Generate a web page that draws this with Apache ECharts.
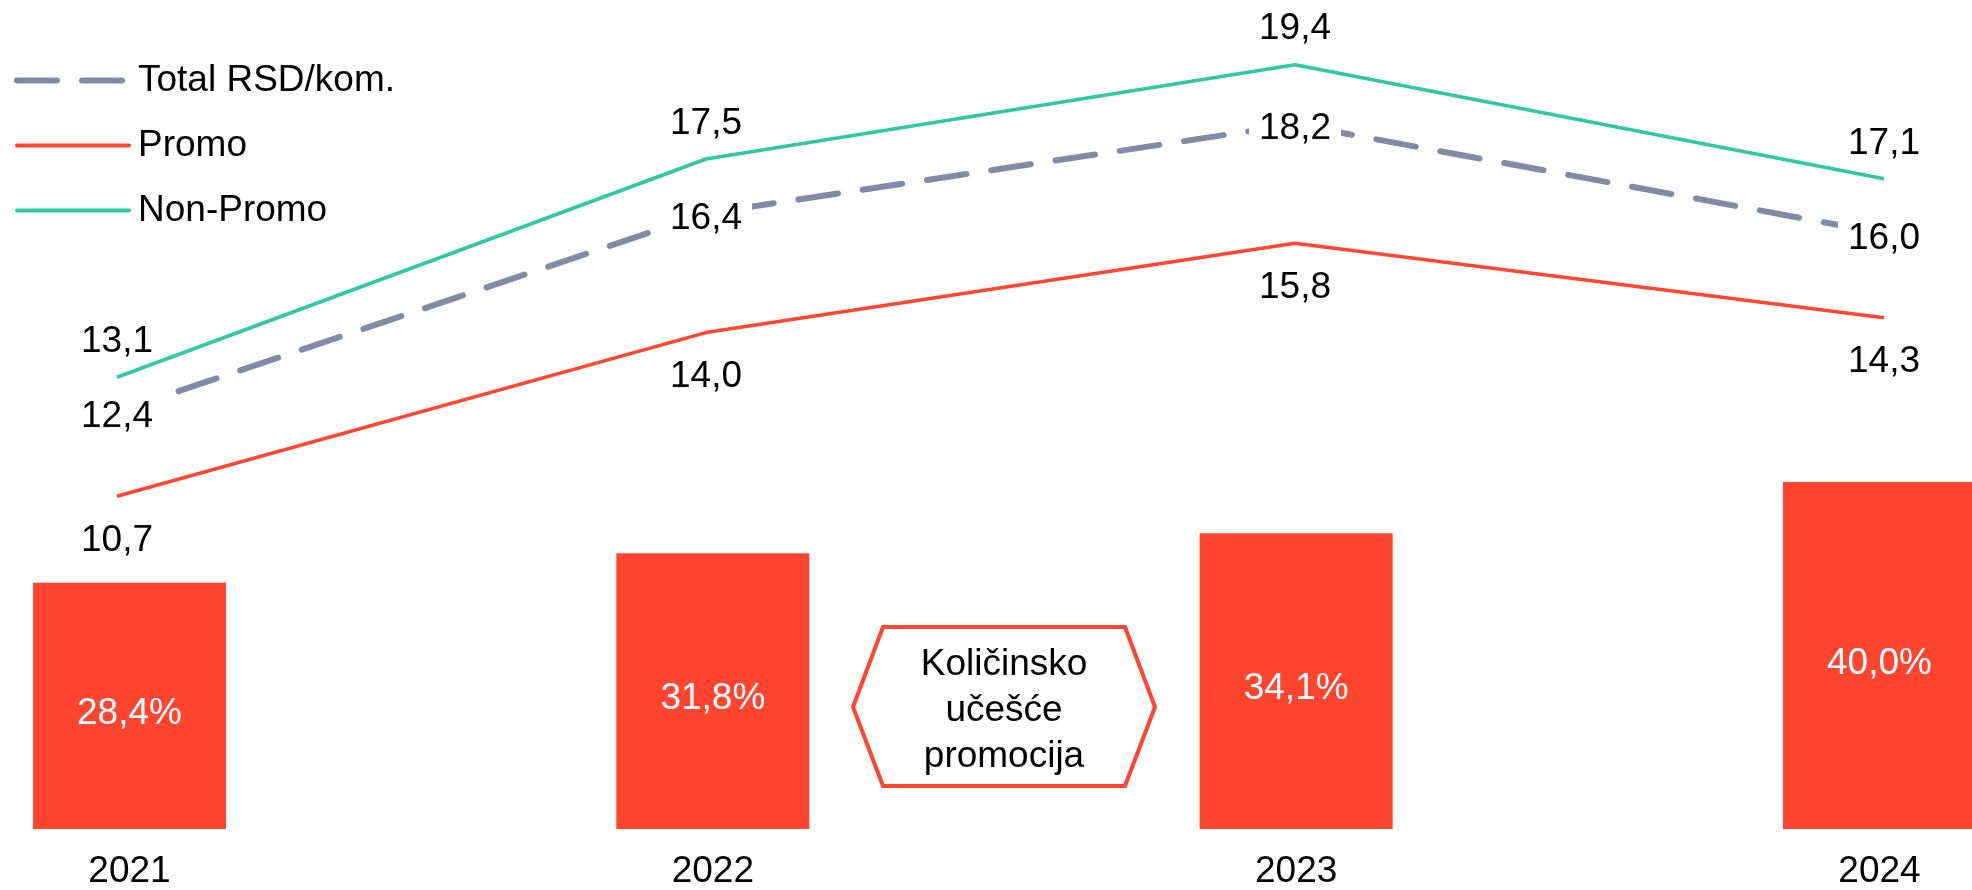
<!DOCTYPE html>
<html>
<head>
<meta charset="utf-8">
<script src="https://cdn.jsdelivr.net/npm/echarts@6/dist/echarts.min.js"></script>
<style>
  html, body { margin: 0; padding: 0; background: #fff; }
  #main { width: 1972px; height: 890px; }
</style>
</head>
<body>
<div id="main"></div>
<script>
// podaci
var years = ['2021', '2022', '2023', '2024'];
var totalPrice = [12.4, 16.4, 18.2, 16.0];
var promoPrice = [10.7, 14.0, 15.8, 14.3];
var nonPromoPrice = [13.1, 17.5, 19.4, 17.1];
var promoShare = [28.4, 31.8, 34.1, 40.0];

var FONT = '"Liberation Sans", Arial, sans-serif';
var FS = 37;
var RED = '#ff4530', TEAL = '#2dc9a3', GREY = '#808ba6';
var DASH = [40, 25];

function fmt(v) { return v.toFixed(1).replace('.', ','); }

var myChart = echarts.init(document.getElementById('main'));

var option = {
  animation: false,
  backgroundColor: '#fff',
  textStyle: { fontFamily: FONT },
  legend: {
    data: [
      { name: 'Total RSD/kom.', itemStyle: { opacity: 0 }, lineStyle: { color: GREY, width: 6, type: DASH, cap: 'round' } },
      { name: 'Promo', itemStyle: { opacity: 0 }, lineStyle: { color: RED, width: 4, cap: 'round' } },
      { name: 'Non-Promo', itemStyle: { opacity: 0 }, lineStyle: { color: TEAL, width: 4, cap: 'round' } }
    ],
    orient: 'vertical',
    left: 14,
    top: 62,
    padding: 0,
    itemWidth: 112,
    itemHeight: 35,
    itemGap: 28,
    textStyle: { fontSize: FS, lineHeight: 35, color: '#000', fontFamily: FONT, padding: [0, 0, 0, 4] }
  },
  grid: [
    { left: 117, right: 88, top: 35, height: 496 },   // linije
    { left: 129.5, right: 92.5, top: 482, bottom: 58.3 } // stubici
  ],
  xAxis: [
    {
      gridIndex: 0, type: 'category', data: years, boundaryGap: false,
      axisLine: { show: false }, axisTick: { show: false }, axisLabel: { show: false }, splitLine: { show: false }
    },
    {
      gridIndex: 1, type: 'category', data: years, boundaryGap: false,
      axisLine: { show: false }, axisTick: { show: false }, splitLine: { show: false },
      axisLabel: { fontSize: FS, lineHeight: 35, color: '#000', fontFamily: FONT, margin: 25, interval: 0 }
    }
  ],
  yAxis: [
    { gridIndex: 0, type: 'value', min: 10, max: 20, show: false, splitLine: { show: false } },
    { gridIndex: 1, type: 'value', min: 0, max: 40, show: false, splitLine: { show: false } }
  ],
  series: [
    {
      name: 'Udeo promocije', type: 'bar', xAxisIndex: 1, yAxisIndex: 1,
      data: promoShare, barWidth: 193, clip: false,
      itemStyle: { color: RED },
      label: {
        show: true, position: 'inside', offset: [0, 8],
        color: '#fff', fontSize: FS, fontFamily: FONT,
        formatter: function (p) { return fmt(p.value) + '%'; }
      }
    },
    {
      name: 'Total RSD/kom.', type: 'line', xAxisIndex: 0, yAxisIndex: 0,
      data: totalPrice, symbol: 'circle', symbolSize: 0, showSymbol: true, z: 3,
      lineStyle: { color: GREY, width: 6, type: DASH, cap: 'round' },
      itemStyle: { color: GREY },
      label: {
        show: true, position: 'inside', offset: [0, 5], color: '#000', fontSize: FS, fontFamily: FONT,
        backgroundColor: '#fff', padding: [4, 10],
        formatter: function (p) { return fmt(p.value); }
      }
    },
    {
      name: 'Promo', type: 'line', xAxisIndex: 0, yAxisIndex: 0,
      data: promoPrice, symbol: 'circle', symbolSize: 0, showSymbol: true, z: 3,
      lineStyle: { color: RED, width: 3.5 },
      itemStyle: { color: RED },
      label: {
        show: true, position: 'bottom', distance: 26, color: '#000', fontSize: FS, fontFamily: FONT,
        formatter: function (p) { return fmt(p.value); }
      }
    },
    {
      name: 'Non-Promo', type: 'line', xAxisIndex: 0, yAxisIndex: 0,
      data: nonPromoPrice, symbol: 'circle', symbolSize: 0, showSymbol: true, z: 3,
      lineStyle: { color: TEAL, width: 3.5 },
      itemStyle: { color: TEAL },
      label: {
        show: true, position: 'top', distance: 17, color: '#000', fontSize: FS, fontFamily: FONT,
        formatter: function (p) { return fmt(p.value); }
      }
    }
  ],
  // oznaka "Količinsko učešće promocija"
  graphic: [
    {
      type: 'polygon',
      shape: { points: [[853, 707], [883, 627], [1125, 627], [1155, 707], [1125, 786], [883, 786]] },
      style: { fill: '#fff', stroke: RED, lineWidth: 4 }
    },
    {
      type: 'text', x: 1004, y: 711,
      style: {
        text: 'Količinsko\nučešće\npromocija',
        fontSize: FS, lineHeight: 46, fontFamily: FONT, fill: '#000',
        align: 'center', verticalAlign: 'middle'
      }
    }
  ]
};

myChart.setOption(option);
</script>
</body>
</html>
